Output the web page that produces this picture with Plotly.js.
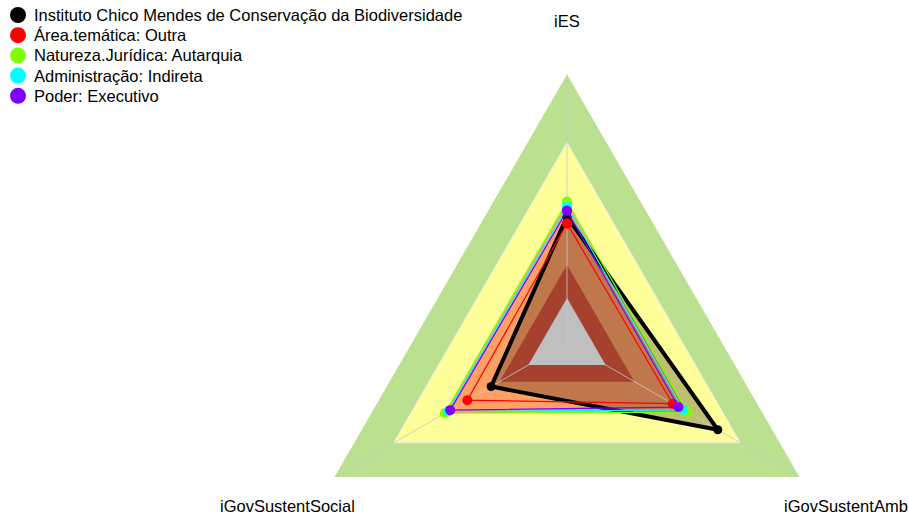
<!DOCTYPE html>
<html>
<head>
<meta charset="utf-8">
<script src="https://cdn.plot.ly/plotly-3.0.1.min.js"></script>
<style>
html, body { margin: 0; padding: 0; overflow: hidden; background: #ffffff; }
#wrap { width: 909px; height: 517px; overflow: hidden; position: relative; }
#chart { width: 909px; height: 640px; }
</style>
</head>
<body>
<div id="wrap"><div id="chart"></div></div>
<script>
// ---- data ----
const categories = ['iES', 'iGovSustentAmb', 'iGovSustentSocial'];
const seriesNames = [
  'Instituto Chico Mendes de Conservação da Biodiversidade',
  'Área.temática: Outra',
  'Natureza.Jurídica: Autarquia',
  'Administração: Indireta',
  'Poder: Executivo'
];
const valInstituto = [0.469, 0.648, 0.326];
const valArea      = [0.444, 0.454, 0.428];
const valNatureza  = [0.525, 0.517, 0.525];
const valAdmin     = [0.506, 0.500, 0.512];
const valPoder     = [0.491, 0.479, 0.502];
const ringLevels   = [1.0, 0.745, 0.29, 0.166];

// ---- styles ----
const seriesColors = ['#000000', '#FF0000', '#80FF00', '#00FFFF', '#8000FF'];
const ringColors = ['rgb(187,224,143)', 'rgb(255,255,153)', 'rgb(220,87,60)', 'rgb(255,255,255)'];
const orangeFill = 'rgb(255,160,100)';
const H = 640, W = 909;
const px = x => x / W;
const py = y => 1 - y / H;
const FONT = { size: 16.5, color: '#000000', family: 'Arial, Liberation Sans, sans-serif' };

const allValues = [valInstituto, valArea, valNatureza, valAdmin, valPoder];
const close = a => a.concat([a[0]]);
const thetaClosed = close(categories);

const traces = [];
function ring(i) {
  const lv = ringLevels[i];
  return {
    type: 'scatterpolar', mode: 'lines', fill: 'toself',
    r: close(categories.map(() => lv)), theta: thetaClosed,
    fillcolor: ringColors[i],
    line: { width: i === 1 ? 1 : 0, color: 'rgba(235,235,235,1)' },
    hoverinfo: 'skip', showlegend: false
  };
}
traces.push(ring(0));
traces.push(ring(1));
// orange fills of the comparison series
for (let s = 1; s < allValues.length; s++) {
  traces.push({
    type: 'scatterpolar', mode: 'lines', fill: 'toself',
    r: close(allValues[s]), theta: thetaClosed,
    fillcolor: orangeFill, line: { width: 0, color: orangeFill },
    hoverinfo: 'skip', showlegend: false
  });
}
traces.push(ring(2));
traces.push(ring(3));
// translucent fill of the institution
traces.push({
  type: 'scatterpolar', mode: 'lines', fill: 'toself',
  r: close(valInstituto), theta: thetaClosed,
  fillcolor: 'rgba(0,0,0,0.25)', line: { width: 0, color: 'rgba(0,0,0,0)' },
  hoverinfo: 'skip', showlegend: false
});
// spokes
categories.forEach(c => {
  traces.push({
    type: 'scatterpolar', mode: 'lines',
    r: [0, ringLevels[0]], theta: [c, c],
    line: { width: 1, color: 'rgba(200,200,200,0.8)' },
    hoverinfo: 'skip', showlegend: false
  });
});
// series lines + markers
allValues.forEach((vals, s) => {
  traces.push({
    type: 'scatterpolar', mode: 'lines+markers', name: seriesNames[s],
    r: close(vals), theta: thetaClosed,
    line: { width: s === 0 ? 4 : 1.2, color: seriesColors[s] },
    marker: { size: s === 0 ? 9 : 10, color: seriesColors[s] },
    hoverinfo: 'skip', showlegend: false
  });
});

// custom legend
const shapes = [];
const annotations = [];
seriesNames.forEach((n, i) => {
  const cy = 15 + 20.2 * i;
  shapes.push({
    type: 'circle', xref: 'paper', yref: 'paper',
    x0: px(18 - 8), x1: px(18 + 8), y0: py(cy + 8), y1: py(cy - 8),
    fillcolor: seriesColors[i], line: { width: 0 }
  });
  annotations.push({
    xref: 'paper', yref: 'paper', x: px(31.5), y: py(cy),
    xanchor: 'left', yanchor: 'middle', showarrow: false,
    text: n, font: FONT
  });
});
// axis labels
const labelPos = [[567, 21], [846, 506], [287, 506]];
categories.forEach((c, i) => {
  annotations.push({
    xref: 'paper', yref: 'paper', x: px(labelPos[i][0]), y: py(labelPos[i][1]),
    xanchor: 'center', yanchor: 'middle', showarrow: false,
    text: c, font: FONT
  });
});

const layout = {
  width: W, height: H,
  margin: { l: 0, r: 0, t: 0, b: 0, pad: 0 },
  paper_bgcolor: '#ffffff',
  showlegend: false,
  polar: {
    domain: { x: [px(298.3), px(835.7)], y: [py(611.4), py(74)] },
    bgcolor: 'rgba(0,0,0,0)',
    gridshape: 'linear',
    radialaxis: { range: [0, 1], visible: false, showgrid: false, showline: false },
    angularaxis: {
      type: 'category', categoryarray: categories, categoryorder: 'array',
      rotation: 90, direction: 'clockwise',
      showgrid: false, showline: false, showticklabels: false, ticks: ''
    }
  },
  shapes: shapes,
  annotations: annotations
};

Plotly.newPlot('chart', traces, layout, { displayModeBar: false, staticPlot: true });
</script>
</body>
</html>
